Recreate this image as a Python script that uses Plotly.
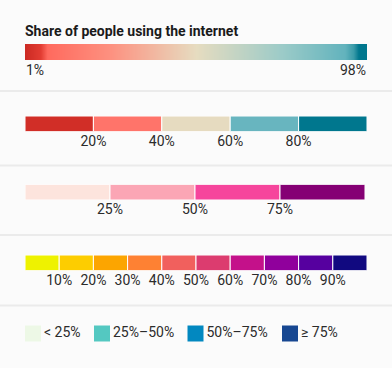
import plotly.graph_objects as go

W, H = 392, 368

# ---------------- data ----------------
gradient_ends = [1, 98]
gradient_labels = ["1%", "98%"]
gradient_stops = [
    [0.00, "#cc2a23"],
    [0.045, "#e23c32"],
    [0.065, "#ff6a5e"],
    [0.25, "#fd9180"],
    [0.50, "#e6dcc0"],
    [0.75, "#9ccbc8"],
    [0.935, "#62b3bd"],
    [0.96, "#3a9ba9"],
    [0.975, "#00778e"],
    [1.00, "#00778e"],
]

breaks_a = [0, 20, 40, 60, 80, 100]
colors_a = ["#d12e27", "#ff746a", "#e6dbc0", "#68b5bf", "#00778e"]

breaks_b = [0, 25, 50, 75, 100]
colors_b = ["#fde4dd", "#fba6b5", "#f6459c", "#850074"]

breaks_c = [0, 10, 20, 30, 40, 50, 60, 70, 80, 90, 100]
colors_c = ["#eef200", "#fdcd00", "#fca500", "#fe8133", "#f1605d",
            "#dc3c6f", "#c4118a", "#90009c", "#56009f", "#110980"]

legend_labels = ["< 25%", "25%\u201350%", "50%\u201375%", "\u2265 75%"]
legend_colors = ["#edf8e6", "#54c8c1", "#0288c0", "#174791"]

title_text = "Share of people using the internet"

# ---------------- layout helpers ----------------
FONT = "Roboto, Arial, sans-serif"
TXT = "#2b2b2b"
LEGEND_X_PX = [8, 77, 170.5, 265]   # legend swatch centres, px from left plot edge


def ydom(top, bottom):
    return [1 - bottom / H, 1 - top / H]


xdom = [25 / W, 367 / W]
xdom_b = [25 / W, 365 / W]

fig = go.Figure()

# Row 1: continuous gradient
fig.add_trace(go.Heatmap(
    z=[gradient_ends], x=gradient_ends, y=[0],
    zmin=gradient_ends[0], zmax=gradient_ends[1],
    colorscale=gradient_stops, zsmooth="best", showscale=False,
    hoverinfo="skip", xaxis="x", yaxis="y"))


def add_steps(breaks, colors, xa, ya):
    for i, c in enumerate(colors):
        fig.add_trace(go.Bar(
            x=[breaks[i + 1] - breaks[i]], base=[breaks[i]], y=[0],
            orientation="h", width=1,
            marker=dict(color=c, line=dict(color="white", width=1)),
            showlegend=False, hoverinfo="skip", xaxis=xa, yaxis=ya))


add_steps(breaks_a, colors_a, "x2", "y2")
add_steps(breaks_b, colors_b, "x3", "y3")
add_steps(breaks_c, colors_c, "x4", "y4")

# Legend row
fig.add_trace(go.Scatter(
    x=LEGEND_X_PX, y=[0] * len(legend_labels), mode="markers+text",
    text=legend_labels, textposition="middle right",
    textfont=dict(family=FONT, size=14, color=TXT),
    marker=dict(symbol="square", size=16, color=legend_colors, line=dict(width=0)),
    cliponaxis=False, showlegend=False, hoverinfo="skip",
    xaxis="x5", yaxis="y5"))


def xax(rng, dom, anchor, ticks=None):
    d = dict(range=rng, domain=dom, anchor=anchor, showgrid=False, zeroline=False,
             showline=False, ticks="", fixedrange=True,
             tickfont=dict(family=FONT, size=14, color=TXT))
    if ticks is None:
        d["showticklabels"] = False
    else:
        d["tickvals"] = ticks
        d["ticktext"] = [f"{v}%" for v in ticks]
        d["ticklabelstandoff"] = -1
    return d


def yax(dom, anchor, rng=(-0.5, 0.5)):
    return dict(range=list(rng), domain=dom, anchor=anchor, showgrid=False,
                zeroline=False, showline=False, showticklabels=False,
                ticks="", fixedrange=True)


fig.update_layout(
    width=W, height=H,
    margin=dict(l=0, r=0, t=0, b=0),
    paper_bgcolor="#fbfbfb", plot_bgcolor="rgba(0,0,0,0)",
    barmode="overlay", showlegend=False,
    font=dict(family=FONT, size=14, color=TXT),
    title=dict(text=title_text, x=25 / W, xref="paper", xanchor="left",
               y=1 - 31.5 / H, yref="paper", yanchor="middle",
               font=dict(family=FONT, size=14, color="#1a1a1a", weight=700)),
    xaxis=xax(gradient_ends, xdom, "y"),
    yaxis=yax(ydom(44, 60), "x"),
    xaxis2=xax([0, 100], xdom, "y2", breaks_a[1:-1]),
    yaxis2=yax(ydom(116, 131.5), "x2"),
    xaxis3=xax([0, 100], xdom_b, "y3", breaks_b[1:-1]),
    yaxis3=yax(ydom(184.5, 200), "x3"),
    xaxis4=xax([0, 100], xdom, "y4", breaks_c[1:-1]),
    yaxis4=yax(ydom(255, 270.5), "x4"),
    xaxis5=dict(range=[0, 342], domain=xdom, anchor="y5", visible=False, fixedrange=True),
    yaxis5=yax(ydom(325, 342), "x5", (-1, 1)) | dict(visible=False),
)

# end labels of the gradient
fig.add_annotation(x=gradient_ends[0], xref="x", y=1 - 69.5 / H, yref="paper",
                   text=gradient_labels[0], showarrow=False, xanchor="left",
                   yanchor="middle", borderpad=0,
                   font=dict(family=FONT, size=14, color=TXT))
fig.add_annotation(x=gradient_ends[1], xref="x", y=1 - 69.5 / H, yref="paper",
                   text=gradient_labels[1], showarrow=False, xanchor="right",
                   yanchor="middle", borderpad=0,
                   font=dict(family=FONT, size=14, color=TXT))

# separators
for ypx in [91, 165.5, 235, 305.5]:
    fig.add_shape(type="line", xref="paper", yref="paper", x0=0, x1=1,
                  y0=1 - ypx / H, y1=1 - ypx / H,
                  line=dict(color="#ebebeb", width=2), layer="below")

fig.write_html("out.html", config={"displayModeBar": False},
               post_script="document.body.style.margin='0';document.body.style.overflow='hidden';")
